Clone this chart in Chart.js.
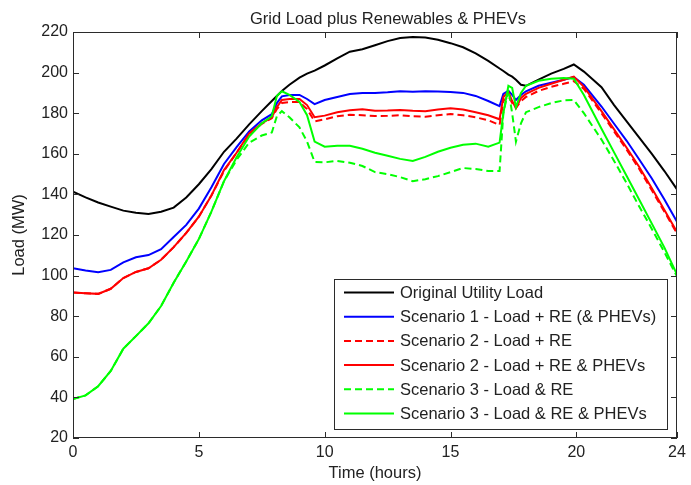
<!DOCTYPE html>
<html>
<head>
<meta charset="utf-8">
<title>Grid Load plus Renewables & PHEVs</title>
<script src="https://cdn.jsdelivr.net/npm/chart.js@4.4.1/dist/chart.umd.min.js"></script>
<style>
  html, body { margin: 0; padding: 0; background: #ffffff; }
  #wrap { width: 691px; height: 485px; }
</style>
</head>
<body>
<div id="wrap"><canvas id="myGraph" width="691" height="485"></canvas></div>
<script>
/* DATOS DEL GRAFICO */
const chartTitle = "Grid Load plus Renewables & PHEVs";
const xTitle = "Time (hours)";
const yTitle = "Load (MW)";

const hours = [0, 0.5, 1, 1.5, 2, 2.5, 3, 3.5, 4, 4.5, 5, 5.5, 6, 6.5, 7, 7.5, 7.9, 8.1, 8.3, 8.6,
  9, 9.3, 9.6, 10, 10.5, 11, 11.5, 12, 12.5, 13, 13.5, 14, 14.5, 15, 15.5, 16, 16.5, 16.95, 17.1, 17.3,
  17.45, 17.6, 17.8, 18, 18.5, 19, 19.5, 19.9, 20.3, 21, 21.5, 22, 22.5, 23, 23.5, 24];

const originalLoad = [141.3, 138.5, 136, 134, 132, 131, 130.3, 131.5, 133.5, 138.5, 145, 152.5, 161, 167.5, 174.5, 181, 186, 188.5, 191, 194,
  197.5, 199.5, 201, 203.5, 207, 210.3, 211.5, 213.5, 215.5, 217, 217.5, 217.3, 216.2, 214.5, 212.5, 209.5, 205.8, 202, 200.8, 199,
  198, 196.5, 194, 193.5, 196.5, 199.5, 201.8, 204, 200.5, 192.8, 184, 176, 168, 160, 151.5, 142.5];

const scenario1 = [103.6, 102.5, 101.6, 102.8, 106.5, 109, 110.1, 113, 119, 125, 133, 143.5, 155, 163.3, 171, 176.5, 179.5, 185, 188.3, 189,
  189, 187, 184.5, 186.5, 188, 189.5, 190, 190, 190.3, 190.8, 190.6, 190.8, 190.7, 190.5, 190, 188.5, 186, 183.5, 189.5, 191,
  189, 186.5, 189, 190.8, 193.5, 195, 196.5, 197.8, 194, 183.3, 174.8, 166.4, 157.2, 147.8, 137.5, 126.5];

const scenario2RE = [91.7, 91.3, 91, 93.5, 98.8, 101.8, 103.6, 107.8, 114, 121, 129, 139.5, 151.5, 160.5, 169.5, 174.8, 177.5, 182, 185, 185.5,
  185.5, 182, 176, 177, 178.5, 179.2, 179, 178.6, 178.7, 179, 178.5, 178.3, 179, 179.6, 179, 178, 176.5, 174.2, 186, 188.5,
  185, 182.5, 186, 188, 191, 193, 194.5, 195.8, 192, 180, 171, 162, 152.5, 142, 131.5, 120.8];

const scenario2PHEV = [91.7, 91.3, 91, 93.5, 98.8, 101.8, 103.6, 107.8, 114, 121, 129, 139.5, 152, 160.5, 170, 175, 178, 183, 186.5, 187,
  187, 184, 178, 178.8, 180.5, 181.5, 182, 181.2, 181.3, 181.6, 181.2, 181, 181.8, 182.4, 181.8, 180.5, 179, 177, 188, 190.5,
  186, 182.5, 187.5, 189.5, 192.5, 194.5, 196.5, 198, 193, 181, 172, 163, 153.5, 143, 132.3, 121.5];

const scenario3RE = [39.2, 41, 45.5, 53, 64, 70.2, 76.5, 85, 96.5, 107, 118, 131.5, 146.5, 157, 165.5, 169, 170.5, 178.5, 181, 178,
  173, 166, 156, 155.8, 156.5, 155.6, 154, 151, 150, 148.5, 146.5, 147.5, 149, 151, 153, 152.5, 151.5, 151.5, 180, 191.5,
  180, 166, 175, 180.5, 183, 185, 186.3, 186.5, 180, 167, 156.5, 145.5, 134, 123, 111.5, 99.5];

const scenario3PHEV = [39.2, 41, 45.5, 53, 64, 70.2, 76.5, 85, 96.5, 107, 118, 131.5, 146.5, 158.3, 168.5, 175, 178.5, 188.5, 190.8, 189,
  185.5, 179, 166, 163.5, 164, 164, 162.5, 160.5, 159, 157.5, 156.5, 158.5, 161, 163, 164.5, 165, 163.5, 165.5, 180, 193.5,
  192.5, 183, 190, 193.5, 196, 197, 197.3, 197, 189, 172.3, 160.7, 149.1, 137.4, 125.6, 113.8, 100.5];

const seriesLabels = [
  "Original Utility Load",
  "Scenario 1 - Load + RE (& PHEVs)",
  "Scenario 2 - Load + RE",
  "Scenario 2 - Load + RE & PHEVs",
  "Scenario 3 - Load & RE",
  "Scenario 3 - Load & RE & PHEVs"
];
const seriesValues = [originalLoad, scenario1, scenario2RE, scenario2PHEV, scenario3RE, scenario3PHEV];
const seriesColors = ["#000000", "#0000ff", "#ff0000", "#ff0000", "#00ff00", "#00ff00"];
const seriesDashed = [false, false, true, false, true, false];

/* CONFIGURACION */
const fontFamily = "'Liberation Sans', Arial, Helvetica, sans-serif";
const axisColor = "#2b2b2b";
const textColor = "#222222";
const dashPattern = [7, 4];

function buildDatasets() {
  return seriesValues.map((vals, i) => ({
    label: seriesLabels[i],
    data: vals.map((v, k) => ({ x: hours[k], y: v })),
    borderColor: seriesColors[i],
    backgroundColor: seriesColors[i],
    borderWidth: 2,
    borderDash: seriesDashed[i] ? dashPattern : [],
    pointRadius: 0,
    tension: 0,
    fill: false,
    order: seriesValues.length - i
  }));
}

/* PLUGIN: CAJA, MARCAS HACIA DENTRO, TITULO Y LEYENDA */
const matlabFrame = {
  id: "matlabFrame",
  afterDraw(chart) {
    const { ctx, chartArea: a, scales } = chart;
    const tl = 6;
    ctx.save();
    ctx.strokeStyle = axisColor;
    ctx.lineWidth = 1;
    ctx.strokeRect(a.left + 0.5, a.top + 0.5, a.right - a.left - 1, a.bottom - a.top - 1);
    ctx.beginPath();
    scales.x.ticks.forEach((t) => {
      const px = Math.round(scales.x.getPixelForValue(t.value)) + 0.5;
      ctx.moveTo(px, a.bottom); ctx.lineTo(px, a.bottom - tl);
      ctx.moveTo(px, a.top); ctx.lineTo(px, a.top + tl);
    });
    scales.y.ticks.forEach((t) => {
      const py = Math.round(scales.y.getPixelForValue(t.value)) + 0.5;
      ctx.moveTo(a.left, py); ctx.lineTo(a.left + tl, py);
      ctx.moveTo(a.right, py); ctx.lineTo(a.right - tl, py);
    });
    ctx.stroke();

    // titulo
    ctx.fillStyle = textColor;
    ctx.font = "16.5px " + fontFamily;
    ctx.textAlign = "center";
    ctx.textBaseline = "middle";
    ctx.fillText(chartTitle, 388, 19);

    // leyenda
    const box = { left: 334, top: 279, right: 668, bottom: 430 };
    ctx.fillStyle = "#ffffff";
    ctx.fillRect(box.left, box.top, box.right - box.left, box.bottom - box.top);
    ctx.strokeStyle = axisColor;
    ctx.strokeRect(box.left + 0.5, box.top + 0.5, box.right - box.left - 1, box.bottom - box.top - 1);
    chart.data.datasets.forEach((ds, i) => {
      const y = box.top + 13.5 + i * 24.2;
      ctx.strokeStyle = ds.borderColor;
      ctx.lineWidth = 2;
      ctx.setLineDash(ds.borderDash);
      ctx.beginPath();
      ctx.moveTo(box.left + 10, y);
      ctx.lineTo(box.left + 60, y);
      ctx.stroke();
      ctx.setLineDash([]);
      ctx.fillStyle = textColor;
      ctx.textAlign = "left";
      ctx.fillText(ds.label, box.left + 66, y + 1);
    });
    ctx.restore();
  }
};

const config = {
  type: "line",
  data: { datasets: buildDatasets() },
  options: {
    responsive: false,
    animation: false,
    layout: { padding: { top: 32, right: 14, left: 0, bottom: 0 } },
    plugins: {
      legend: { display: false },
      title: { display: false },
      tooltip: { enabled: false }
    },
    scales: {
      x: {
        type: "linear",
        min: 0,
        max: 24,
        afterFit: (s) => { s.height = 47; },
        grid: { display: false, drawTicks: false },
        border: { display: false },
        ticks: { stepSize: 5, padding: 5, color: textColor, font: { family: fontFamily, size: 16 } },
        title: { display: true, text: xTitle, color: textColor, padding: { top: 0, bottom: 2 }, font: { family: fontFamily, size: 16.5 } }
      },
      y: {
        type: "linear",
        min: 20,
        max: 220,
        afterFit: (s) => { s.width = 73; },
        grid: { display: false, drawTicks: false },
        border: { display: false },
        ticks: { stepSize: 20, padding: 5, color: textColor, font: { family: fontFamily, size: 16 } },
        title: { display: true, text: yTitle, color: textColor, padding: { top: 10, bottom: 0 }, font: { family: fontFamily, size: 16.5 } }
      }
    }
  },
  plugins: [matlabFrame]
};

let chart = new Chart(document.getElementById("myGraph"), config);
</script>
</body>
</html>
